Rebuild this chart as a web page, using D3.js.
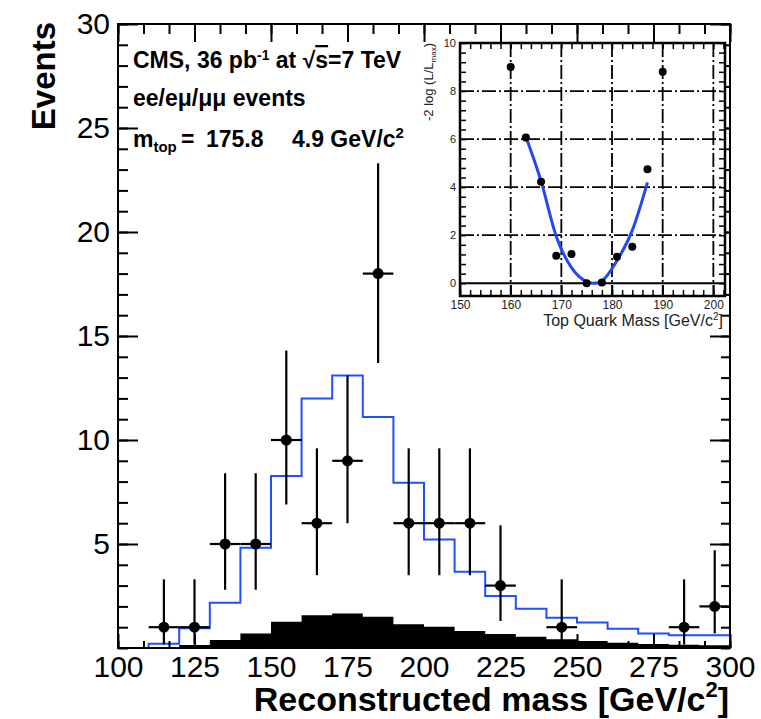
<!DOCTYPE html>
<html>
<head>
<meta charset="utf-8">
<script src="https://cdn.jsdelivr.net/npm/d3@7"></script>
<style>
  html, body { margin: 0; padding: 0; background: #fff; }
  svg { display: block; font-family: "Liberation Sans", Arial, Helvetica, sans-serif; }
</style>
</head>
<body>
<div id="chart"></div>
<script>
// Data - main histogram (bins of 10 GeV, lower edges)
const binLo = [100, 110, 120, 130, 140, 150, 160, 170, 180, 190, 200, 210, 220, 230, 240, 250, 260, 270, 280, 290]
const sigPlusBkg = [0, 0.2, 0.95, 2.17, 4.82, 8.27, 12.0, 13.1, 11.1, 7.94, 5.22, 3.66, 2.5, 1.89, 1.46, 1.22, 0.93, 0.7, 0.61, 0.61]
const bkgOnly = [0, 0.02, 0.14, 0.38, 0.7, 1.26, 1.58, 1.66, 1.5, 1.14, 1.02, 0.82, 0.67, 0.54, 0.42, 0.34, 0.25, 0.19, 0.16, 0.13]

// observed events (bin centres) with poisson error bounds
const dataMass = [115, 125, 135, 145, 155, 165, 175, 185, 195, 205, 215, 225, 245, 285, 295]
const dataEvents = [1, 1, 5, 5, 10, 6, 9, 18, 6, 6, 6, 3, 1, 1, 2]
const errLow = [0.17, 0.17, 2.8, 2.8, 6.9, 3.5, 6.0, 13.7, 3.5, 3.5, 3.5, 1.3, 0.17, 0.17, 0.7]
const errHigh = [3.3, 3.3, 8.4, 8.4, 14.3, 9.6, 13.1, 23.3, 9.6, 9.6, 9.6, 5.9, 3.3, 3.3, 4.7]

const xTicks = [100, 125, 150, 175, 200, 225, 250, 275, 300]
const yTicks = [5, 10, 15, 20, 25, 30]

// Data - inset likelihood scan
const scanMass = [160, 163, 166, 169, 172, 175, 178, 181, 184, 187, 190]
const scanVal = [9.0, 6.07, 4.22, 1.15, 1.22, 0.0, 0.03, 1.1, 1.52, 4.75, 8.8]
const fitMass = [163, 166, 169, 172, 175, 176.4, 178, 181, 184, 187]
const fitVal = [6.1, 4.25, 1.95, 0.65, 0.07, 0, 0.1, 0.95, 2.2, 4.2]
const insetXTicks = [150, 160, 170, 180, 190, 200]
const insetYTicks = [0, 2, 4, 6, 8, 10]

const binWidth = 10

function draw() {
  const W = 761, H = 719
  const frame = { left: 118, right: 730, top: 24, bottom: 648 }

  const svg = d3.select('#chart')
    .append('svg')
    .attr('width', W)
    .attr('height', H)

  svg.append('rect').attr('width', W).attr('height', H).attr('fill', '#fff')

  // Scales
  const xScale = d3.scaleLinear().domain([100, 300]).range([frame.left, frame.right])
  const yScale = d3.scaleLinear().domain([0, 30]).range([frame.bottom, frame.top])

  // background (filled black)
  const bkgPts = binLo.map((b, i) => [b, bkgOnly[i]]).concat([[300, bkgOnly[bkgOnly.length - 1]]])
  const area = d3.area()
    .x(d => xScale(d[0]))
    .y0(yScale(0))
    .y1(d => yScale(d[1]))
    .curve(d3.curveStepAfter)
  svg.append('path')
    .attr('d', area(bkgPts))
    .attr('fill', '#000')

  // signal + background (blue line)
  const sigPts = binLo.map((b, i) => [b, sigPlusBkg[i]])
    .concat([[300, sigPlusBkg[sigPlusBkg.length - 1]], [300, 0]])
  const line = d3.line()
    .x(d => xScale(d[0]))
    .y(d => yScale(d[1]))
    .curve(d3.curveStepAfter)
  svg.append('path')
    .attr('d', line(sigPts))
    .attr('fill', 'none')
    .attr('stroke', '#1f4fff')
    .attr('stroke-width', 2)

  // axes ticks (inward, ROOT style)
  const noLabel = () => ''
  const xMinor = d3.range(100, 300.01, 25 / 3)
  const yMinor = d3.range(0, 30.01, 1)

  const addAxis = (axis, tx, ty) => {
    const g = svg.append('g')
      .attr('transform', `translate(${tx}, ${ty})`)
      .call(axis)
    g.select('.domain').remove()
    g.selectAll('line').attr('stroke', '#000').attr('stroke-width', 2)
    return g
  }

  addAxis(d3.axisBottom(xScale).tickValues(xMinor).tickFormat(noLabel).tickSizeInner(-7).tickSizeOuter(0), 0, frame.bottom)
  const xAx = addAxis(d3.axisBottom(xScale).tickValues(xTicks).tickFormat(d3.format('d')).tickSizeInner(-14).tickSizeOuter(0).tickPadding(8), 0, frame.bottom)
  xAx.selectAll('text').attr('font-size', 30).attr('fill', '#000').attr('font-family', 'Liberation Sans, Arial, sans-serif')

  addAxis(d3.axisTop(xScale).tickValues(xMinor).tickFormat(noLabel).tickSizeInner(-10).tickSizeOuter(0), 0, frame.top)
  addAxis(d3.axisTop(xScale).tickValues(xTicks).tickFormat(noLabel).tickSizeInner(-18).tickSizeOuter(0), 0, frame.top)

  addAxis(d3.axisLeft(yScale).tickValues(yMinor).tickFormat(noLabel).tickSizeInner(-10).tickSizeOuter(0), frame.left, 0)
  const yAx = addAxis(d3.axisLeft(yScale).tickValues(yTicks).tickFormat(d3.format('d')).tickSizeInner(-20).tickSizeOuter(0).tickPadding(8), frame.left, 0)
  yAx.selectAll('text').attr('font-size', 30).attr('fill', '#000').attr('font-family', 'Liberation Sans, Arial, sans-serif')

  addAxis(d3.axisRight(yScale).tickValues(yMinor).tickFormat(noLabel).tickSizeInner(-9).tickSizeOuter(0), frame.right, 0)
  addAxis(d3.axisRight(yScale).tickValues(yTicks).tickFormat(noLabel).tickSizeInner(-20).tickSizeOuter(0), frame.right, 0)

  // data points + errors
  const pts = svg.append('g')
  dataMass.forEach((m, i) => {
    pts.append('line')
      .attr('x1', xScale(m)).attr('x2', xScale(m))
      .attr('y1', yScale(errLow[i])).attr('y2', yScale(errHigh[i]))
      .attr('stroke', '#000').attr('stroke-width', 2.2)
    pts.append('line')
      .attr('x1', xScale(m - binWidth / 2)).attr('x2', xScale(m + binWidth / 2))
      .attr('y1', yScale(dataEvents[i])).attr('y2', yScale(dataEvents[i]))
      .attr('stroke', '#000').attr('stroke-width', 2.2)
  })
  pts.selectAll('circle')
    .data(dataMass)
    .join('circle')
    .attr('cx', d => xScale(d))
    .attr('cy', (d, i) => yScale(dataEvents[i]))
    .attr('r', 5.5)
    .attr('fill', '#000')

  // frame
  svg.append('rect')
    .attr('x', frame.left).attr('y', frame.top)
    .attr('width', frame.right - frame.left)
    .attr('height', frame.bottom - frame.top)
    .attr('fill', 'none').attr('stroke', '#000').attr('stroke-width', 2)

  // axis titles
  svg.append('text')
    .attr('transform', 'translate(55, 22) rotate(-90)')
    .attr('text-anchor', 'end')
    .attr('font-size', 33).attr('font-weight', 'bold')
    .text('Events')

  const xt = svg.append('text')
    .attr('x', 729).attr('y', 711)
    .attr('text-anchor', 'end')
    .attr('font-size', 34).attr('font-weight', 'bold')
  xt.append('tspan').text('Reconstructed mass [GeV/c')
  xt.append('tspan').attr('dy', -14).attr('font-size', 22).text('2')
  xt.append('tspan').attr('dy', 14).text(']')

  // annotation
  const ann = svg.append('g').attr('font-weight', 'bold').attr('font-size', 23)
  const t1 = ann.append('text').attr('x', 133).attr('y', 68)
  t1.append('tspan').text('CMS, 36 pb')
  t1.append('tspan').attr('dy', -8).attr('font-size', 14).text('-1')
  t1.append('tspan').attr('dy', 8).text(' at ')
  t1.append('tspan').text('\u221A')
  t1.append('tspan').style('text-decoration', 'overline').text('s')
  t1.append('tspan').text('=7 TeV')

  ann.append('text').attr('x', 133).attr('y', 106).text('ee/e\u03BC/\u03BC\u03BC events')

  const t3 = ann.append('text').attr('x', 133).attr('y', 147)
  t3.append('tspan').text('m')
  t3.append('tspan').attr('dy', 5).attr('font-size', 15).text('top')
  t3.append('tspan').attr('dy', -5).attr('x', 181).text('=')
  t3.append('tspan').attr('x', 206).text('175.8')
  t3.append('tspan').attr('x', 292).text('4.9 GeV/c')
  t3.append('tspan').attr('dy', -9).attr('font-size', 15).text('2')

  // ---------------- inset ----------------
  const inset = { left: 460, right: 725, top: 43, bottom: 296 }
  const xi = d3.scaleLinear().domain([150, 202.3]).range([inset.left, inset.right])
  const yi = d3.scaleLinear().domain([-0.53, 10]).range([inset.bottom, inset.top])

  const ins = svg.append('g')
  ins.append('rect')
    .attr('x', inset.left).attr('y', inset.top)
    .attr('width', inset.right - inset.left).attr('height', inset.bottom - inset.top)
    .attr('fill', '#fff')

  // grid (dash-dot)
  ins.selectAll('.gx')
    .data(insetXTicks.filter(d => d > 150))
    .join('line')
    .attr('x1', d => xi(d)).attr('x2', d => xi(d))
    .attr('y1', inset.top).attr('y2', inset.bottom)
    .attr('stroke', '#000').attr('stroke-width', 1.8)
    .attr('stroke-dasharray', '14,3,2,3')
  ins.selectAll('.gy')
    .data(insetYTicks.filter(d => d > 0 && d < 10))
    .join('line')
    .attr('x1', inset.left).attr('x2', inset.right)
    .attr('y1', d => yi(d)).attr('y2', d => yi(d))
    .attr('stroke', '#000').attr('stroke-width', 1.8)
    .attr('stroke-dasharray', '14,3,2,3')
  ins.append('line')
    .attr('x1', inset.left).attr('x2', inset.right)
    .attr('y1', yi(0)).attr('y2', yi(0))
    .attr('stroke', '#000').attr('stroke-width', 2)

  const addInsetAxis = (axis, tx, ty) => {
    const g = ins.append('g')
      .attr('transform', `translate(${tx}, ${ty})`)
      .call(axis)
    g.select('.domain').remove()
    g.selectAll('line').attr('stroke', '#000').attr('stroke-width', 1.5)
    return g
  }
  const xiMinor = d3.range(150, 202.3, 2)
  const yiMinor = d3.range(0, 10.01, 0.4)

  addInsetAxis(d3.axisBottom(xi).tickValues(xiMinor).tickFormat(noLabel).tickSizeInner(-6).tickSizeOuter(0), 0, inset.bottom)
  const xiAx = addInsetAxis(d3.axisBottom(xi).tickValues(insetXTicks).tickFormat(d3.format('d')).tickSizeInner(-11).tickSizeOuter(0).tickPadding(4), 0, inset.bottom)
  xiAx.selectAll('text').attr('font-size', 12).attr('fill', '#222').attr('font-family', 'Liberation Sans, Arial, sans-serif')
  addInsetAxis(d3.axisTop(xi).tickValues(xiMinor).tickFormat(noLabel).tickSizeInner(-6).tickSizeOuter(0), 0, inset.top)

  addInsetAxis(d3.axisLeft(yi).tickValues(yiMinor).tickFormat(noLabel).tickSizeInner(-6).tickSizeOuter(0), inset.left, 0)
  const yiAx = addInsetAxis(d3.axisLeft(yi).tickValues(insetYTicks).tickFormat(d3.format('d')).tickSizeInner(0).tickSizeOuter(0).tickPadding(4), inset.left, 0)
  yiAx.selectAll('text').attr('font-size', 11).attr('fill', '#222').attr('font-family', 'Liberation Sans, Arial, sans-serif')
  addInsetAxis(d3.axisRight(yi).tickValues(yiMinor).tickFormat(noLabel).tickSizeInner(-6).tickSizeOuter(0), inset.right, 0)

  // fit curve
  const fitLine = d3.line()
    .x((d, i) => xi(fitMass[i]))
    .y(d => yi(d))
    .curve(d3.curveMonotoneX)
  ins.append('path')
    .attr('d', fitLine(fitVal))
    .attr('fill', 'none')
    .attr('stroke', '#2348f0')
    .attr('stroke-width', 3)

  ins.selectAll('.scan')
    .data(scanMass)
    .join('circle')
    .attr('cx', d => xi(d))
    .attr('cy', (d, i) => yi(scanVal[i]))
    .attr('r', 4)
    .attr('fill', '#000')

  ins.append('rect')
    .attr('x', inset.left).attr('y', inset.top)
    .attr('width', inset.right - inset.left).attr('height', inset.bottom - inset.top)
    .attr('fill', 'none').attr('stroke', '#000').attr('stroke-width', 2.5)

  // inset titles
  const it = ins.append('text')
    .attr('x', 723).attr('y', 326)
    .attr('text-anchor', 'end')
    .attr('font-size', 16).attr('fill', '#222')
  it.append('tspan').text('Top Quark Mass [GeV/c')
  it.append('tspan').attr('dy', -6).attr('font-size', 10).text('2')
  it.append('tspan').attr('dy', 6).text(']')

  const iy = ins.append('text')
    .attr('transform', 'translate(433, 43) rotate(-90)')
    .attr('text-anchor', 'end')
    .attr('font-size', 13).attr('fill', '#222')
  iy.append('tspan').text('-2 log (L/L')
  iy.append('tspan').attr('dy', 3).attr('font-size', 8).text('max')
  iy.append('tspan').attr('dy', -3).text(')')
}

draw()
</script>
</body>
</html>
